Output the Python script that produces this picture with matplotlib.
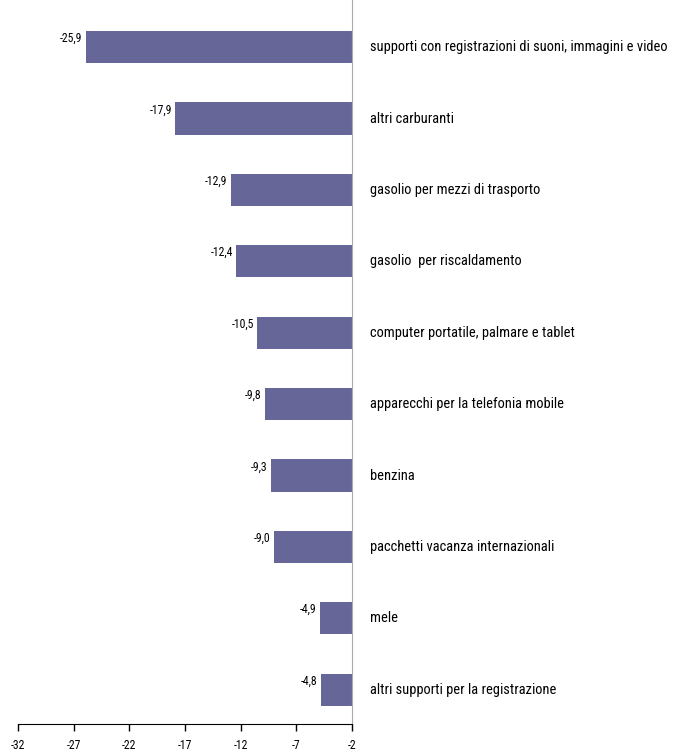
import matplotlib.pyplot as plt

categories = [
    "supporti con registrazioni di suoni, immagini e video",
    "altri carburanti",
    "gasolio per mezzi di trasporto",
    "gasolio  per riscaldamento",
    "computer portatile, palmare e tablet",
    "apparecchi per la telefonia mobile",
    "benzina",
    "pacchetti vacanza internazionali",
    "mele",
    "altri supporti per la registrazione",
]
values = [-25.9, -17.9, -12.9, -12.4, -10.5, -9.8, -9.3, -9.0, -4.9, -4.8]
xticks = [-32, -27, -22, -17, -12, -7, -2]

# narrow fonts first, if any of them is installed
fam = ['Roboto Condensed', 'Liberation Sans Narrow', 'Open Sans Condensed',
       'DejaVu Sans Condensed', 'Liberation Sans', 'DejaVu Sans']
plt.rcParams['font.family'] = fam

fig = plt.figure(figsize=(6.73, 7.56), dpi=100)
ax = fig.add_axes([18 / 673, 1 - 724 / 756, (352 - 18) / 673, 724 / 756])

ypos = list(range(len(values)))
ax.barh(ypos, [v + 2 for v in values], left=-2, height=0.45, color='#666699')

labels = []
for y, v, c in zip(ypos, values, categories):
    ax.text(v - 0.3, y - 0.12, f"{v:.1f}".replace('.', ','), ha='right', va='center',
            fontsize=8.5)
    labels.append(ax.text(-0.4, y, c, ha='left', va='center', fontsize=11.5,
                          clip_on=False))

ax.set_xlim(-32, -2)
ax.set_ylim(9.48, -0.66)
ax.set_xticks(xticks)
ax.set_xticklabels([str(t) for t in xticks], fontsize=8.5)
ax.set_yticks([])
for s in ['top', 'left']:
    ax.spines[s].set_visible(False)
ax.spines['right'].set_color('#aaaaaa')
ax.spines['bottom'].set_color('black')
ax.tick_params(axis='x', direction='out', length=5, width=1, pad=6)

# shrink the right-hand labels so the longest one fits in the space left
fig.canvas.draw()
r = fig.canvas.get_renderer()
w = max(t.get_window_extent(r).width for t in labels)
size = min(11.5, 11.5 * 298 / w)
for t in labels:
    t.set_fontsize(size)

fig.savefig('out.png', dpi=100)
